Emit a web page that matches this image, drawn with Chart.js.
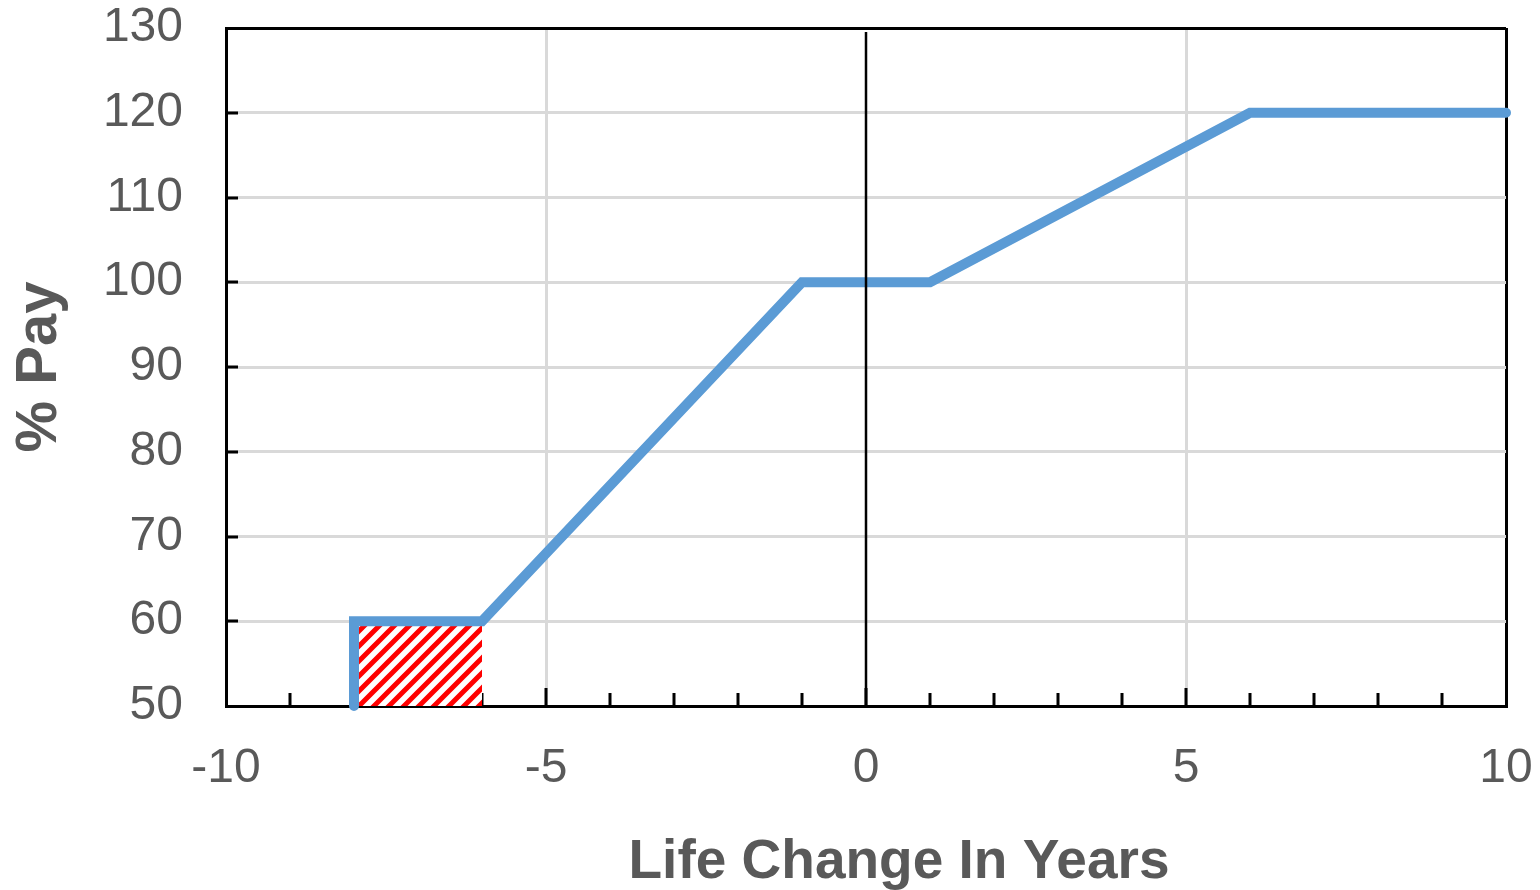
<!DOCTYPE html>
<html>
<head>
<meta charset="utf-8">
<title>% Pay vs Life Change In Years</title>
<script src="https://cdn.jsdelivr.net/npm/chart.js@4.4.1/dist/chart.umd.min.js"></script>
<style>
  html, body { margin: 0; padding: 0; background: #ffffff; }
  #wrap { width: 1540px; height: 890px; }
</style>
</head>
<body>
<div id="wrap"><canvas id="chart" width="1540" height="890"></canvas></div>
<script>
// Pay curve: life change (years) vs % of pay
const lifeChange = [-8, -8, -6, -1, 1, 6, 10];
const payPct     = [50, 60, 60, 100, 100, 120, 120];

// Hatched floor region
const hatchX = [-8, -6];
const hatchY = [60, 60];

// Axis ranges and tick steps
const xRange = [-10, 10];
const yRange = [50, 130];
const xLabelStep = 5;
const xMinorStep = 1;
const yStep = 10;

const xTitle = 'Life Change In Years';
const yTitle = '% Pay';

const FONT = "'Liberation Sans', Arial, sans-serif";
const TEXT = '#595959';
const GRID = '#d9d9d9';

// Red diagonal hatch pattern
function makeHatch() {
  const s = 15;
  const c = document.createElement('canvas');
  c.width = s; c.height = s;
  const g = c.getContext('2d');
  g.fillStyle = '#ffffff';
  g.fillRect(0, 0, s, s);
  g.strokeStyle = '#ff0000';
  g.lineWidth = 5;
  g.beginPath();
  g.moveTo(-2, s + 2); g.lineTo(s + 2, -2);
  g.moveTo(-2, 2); g.lineTo(2, -2);
  g.moveTo(s - 2, s + 2); g.lineTo(s + 2, s - 2);
  g.stroke();
  return g.createPattern(c, 'repeat');
}

const toPoints = (xs, ys) => xs.map((x, i) => ({ x, y: ys[i] }));

// Inward tick marks on both axes
const innerTicks = {
  id: 'innerTicks',
  beforeDatasetsDraw(chart) {
    const { ctx, chartArea, scales } = chart;
    const xs = scales.x, ys = scales.y;
    ctx.save();
    ctx.strokeStyle = '#000000';
    ctx.lineWidth = 3;
    ctx.beginPath();
    for (let v = xRange[0] + xMinorStep; v < xRange[1]; v += xMinorStep) {
      const px = Math.round(xs.getPixelForValue(v));
      const len = (v % xLabelStep === 0) ? 18 : 13;
      ctx.moveTo(px, chartArea.bottom);
      ctx.lineTo(px, chartArea.bottom - len);
    }
    for (let v = yRange[0] + yStep; v < yRange[1]; v += yStep) {
      const py = Math.round(ys.getPixelForValue(v));
      ctx.moveTo(chartArea.left, py);
      ctx.lineTo(chartArea.left + 12, py);
    }
    ctx.stroke();
    ctx.restore();
  }
};

// Vertical zero line drawn over the data, plus the x-axis title
const overlay = {
  id: 'overlay',
  afterDatasetsDraw(chart) {
    const { ctx, chartArea, scales } = chart;
    const px = Math.round(scales.x.getPixelForValue(0));
    ctx.save();
    ctx.strokeStyle = '#000000';
    ctx.lineWidth = 2.5;
    ctx.beginPath();
    ctx.moveTo(px, chartArea.top + 4);
    ctx.lineTo(px, chartArea.bottom);
    ctx.stroke();
    ctx.restore();
  },
  afterDraw(chart) {
    const { ctx, chartArea } = chart;
    ctx.save();
    ctx.fillStyle = TEXT;
    ctx.font = 'bold 55px ' + FONT;
    ctx.textAlign = 'center';
    ctx.textBaseline = 'alphabetic';
    const cx = (chartArea.left + chartArea.right) / 2 + 33;
    ctx.fillText(xTitle, cx, chartArea.bottom + 172);
    ctx.restore();
  }
};

const ctx = document.getElementById('chart').getContext('2d');

new Chart(ctx, {
  type: 'line',
  data: {
    datasets: [
      {
        label: 'Pay',
        data: toPoints(lifeChange, payPct),
        borderColor: '#5b9bd5',
        borderWidth: 10,
        borderCapStyle: 'round',
        borderJoinStyle: 'miter',
        pointRadius: 0,
        tension: 0,
        fill: false,
        clip: false,
        order: 1
      },
      {
        label: 'Floor',
        data: toPoints(hatchX, hatchY),
        borderWidth: 0,
        borderColor: 'rgba(0,0,0,0)',
        backgroundColor: makeHatch(),
        pointRadius: 0,
        fill: 'start',
        order: 2
      }
    ]
  },
  options: {
    responsive: false,
    animation: false,
    devicePixelRatio: 1,
    layout: { padding: { top: 28, right: 34, left: 0, bottom: 0 } },
    plugins: {
      legend: { display: false },
      tooltip: { enabled: false }
    },
    scales: {
      x: {
        type: 'linear',
        min: xRange[0],
        max: xRange[1],
        afterFit(scale) {
          scale.height = 184;
          scale.paddingLeft = 0;
          scale.paddingRight = 0;
        },
        ticks: {
          stepSize: xLabelStep,
          maxRotation: 0,
          autoSkip: false,
          padding: 34,
          color: TEXT,
          font: { family: FONT, size: 48 }
        },
        grid: {
          drawTicks: false,
          color: (c) => {
            const v = c.tick ? c.tick.value : null;
            if (v === 0) return 'rgba(0,0,0,0)';
            if (v === xRange[0] || v === xRange[1]) return '#000000';
            return GRID;
          },
          lineWidth: 3
        },
        border: { display: true, color: '#000000', width: 3 }
      },
      y: {
        type: 'linear',
        min: yRange[0],
        max: yRange[1],
        afterFit(scale) {
          scale.width = 226;
          scale.paddingTop = 0;
          scale.paddingBottom = 0;
        },
        ticks: {
          stepSize: yStep,
          padding: 43,
          color: TEXT,
          font: { family: FONT, size: 48 }
        },
        grid: {
          drawTicks: false,
          color: (c) => {
            const v = c.tick ? c.tick.value : null;
            if (v === yRange[0] || v === yRange[1]) return '#000000';
            return GRID;
          },
          lineWidth: 3
        },
        border: { display: true, color: '#000000', width: 3 },
        title: {
          display: true,
          text: yTitle,
          color: TEXT,
          font: { family: FONT, size: 58, weight: 'bold' },
          padding: { top: 5, bottom: 0 }
        }
      }
    }
  },
  plugins: [innerTicks, overlay]
});
</script>
</body>
</html>
